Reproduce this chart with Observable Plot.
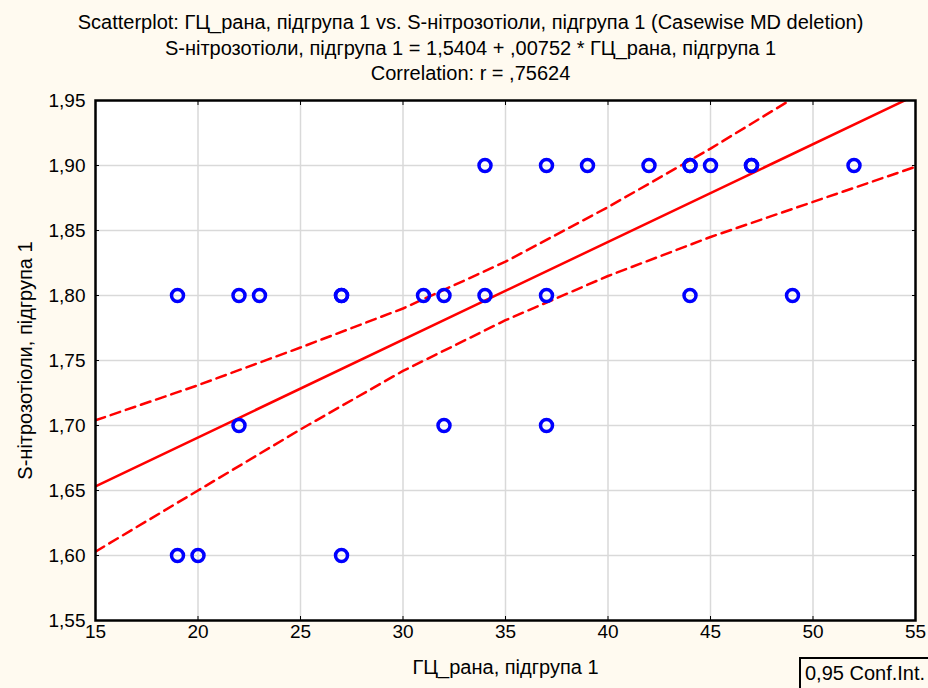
<!DOCTYPE html>
<html>
<head>
<meta charset="utf-8">
<script src="https://cdn.jsdelivr.net/npm/d3@7"></script>
<script src="https://cdn.jsdelivr.net/npm/@observablehq/plot@0.6"></script>
<style>
  html, body { margin: 0; padding: 0; background: #fffaf0; }
  #wrap { position: relative; width: 928px; height: 688px; overflow: hidden; }
  #legend { position: absolute; left: 799px; top: 657px; width: 140px; height: 29px;
            border: 2px solid #000; font: 20px "Liberation Sans", Arial, sans-serif; color: #000;
            line-height: 29px; padding-left: 4px; box-sizing: content-box; white-space: nowrap; }
</style>
</head>
<body>
<div id="wrap"></div>
<script>
// ---- Data ----
const titleLines = [
  "Scatterplot: ГЦ_рана, підгрупа 1 vs. S-нітрозотіоли, підгрупа 1 (Casewise MD deletion)",
  "S-нітрозотіоли, підгрупа 1 = 1,5404 + ,00752 * ГЦ_рана, підгрупа 1",
  "Correlation: r = ,75624"
];
const xLabel = "ГЦ_рана, підгрупа 1";
const yLabel = "S-нітрозотіоли, підгрупа 1";
const legendText = "0,95 Conf.Int.";

// observations (x = ГЦ_рана, y = S-нітрозотіоли)
const obsX = [34, 37, 39, 42, 44, 44, 45, 47, 47, 52,
              19, 22, 23, 27, 27, 31, 32, 34, 37, 44, 49,
              22, 32, 37,
              19, 20, 27];
const obsY = [1.90, 1.90, 1.90, 1.90, 1.90, 1.90, 1.90, 1.90, 1.90, 1.90,
              1.80, 1.80, 1.80, 1.80, 1.80, 1.80, 1.80, 1.80, 1.80, 1.80, 1.80,
              1.70, 1.70, 1.70,
              1.60, 1.60, 1.60];

// regression (from the title equation)
const intercept = 1.5404;
const slope = 0.00752;
const fitX = [15, 55];

// 0.95 confidence band
const bandX = [15, 20, 25, 30, 35, 40, 45, 50, 55];
const upperY = [1.704, 1.731, 1.760, 1.790, 1.826, 1.868, 1.913, 1.961, 2.009];
const lowerY = [1.603, 1.650, 1.697, 1.742, 1.781, 1.815, 1.845, 1.872, 1.899];

const xTicks = [15, 20, 25, 30, 35, 40, 45, 50, 55];
const yTicks = [1.55, 1.60, 1.65, 1.70, 1.75, 1.80, 1.85, 1.90, 1.95];

// ---- Build tables ----
const points = obsX.map((x, i) => ({x, y: obsY[i]}));
const fit = fitX.map(x => ({x, y: intercept + slope * x}));
const upper = bandX.map((x, i) => ({x, y: upperY[i]}));
const lower = bandX.map((x, i) => ({x, y: lowerY[i]}));
const comma = d => d.toFixed(2).replace(".", ",");

const FONT = "'Liberation Sans', Arial, sans-serif";

const chart = Plot.plot({
  width: 928,
  height: 688,
  marginLeft: 95,
  marginRight: 13,
  marginTop: 100,
  marginBottom: 68,
  style: { background: "#fffaf0", fontFamily: FONT, fontSize: "19px", color: "#000" },
  x: { domain: [15, 55], ticks: xTicks },
  y: { domain: [1.55, 1.95], ticks: yTicks },
  marks: [
    Plot.frame({ fill: "white", stroke: null }),
    Plot.gridX(xTicks.slice(1, -1), { stroke: "#d9d9d9", strokeOpacity: 1, strokeWidth: 1.5 }),
    Plot.gridY(yTicks.slice(1, -1), { stroke: "#d9d9d9", strokeOpacity: 1, strokeWidth: 1.5 }),
    Plot.line(upper, { x: "x", y: "y", stroke: "#ff0000", strokeWidth: 2.5, strokeDasharray: "10,6", clip: true }),
    Plot.line(lower, { x: "x", y: "y", stroke: "#ff0000", strokeWidth: 2.5, strokeDasharray: "10,6", clip: true }),
    Plot.line(fit, { x: "x", y: "y", stroke: "#ff0000", strokeWidth: 2.5, clip: true }),
    Plot.dot(points, { x: "x", y: "y", r: 6, stroke: "#0000ff", strokeWidth: 3.5, fill: "none" }),
    Plot.axisX({ anchor: "bottom", ticks: xTicks, tickSize: -4, tickPadding: 8, tickFormat: d => String(d), label: null, fontSize: 19 }),
    Plot.axisX({ anchor: "top", ticks: xTicks, tickSize: -4, tickFormat: () => "", label: null }),
    Plot.axisY({ anchor: "left", ticks: yTicks, tickSize: -4, tickPadding: 14, tickFormat: comma, label: null, fontSize: 19 }),
    Plot.axisY({ anchor: "right", ticks: yTicks, tickSize: -4, tickFormat: () => "", label: null }),
    Plot.frame({ stroke: "#000", strokeWidth: 2.5 }),
    Plot.text([titleLines[0]], { text: d => d, frameAnchor: "top", dx: -35, dy: -86, fontSize: 20 }),
    Plot.text([titleLines[1]], { text: d => d, frameAnchor: "top", dx: -35, dy: -60, fontSize: 20 }),
    Plot.text([titleLines[2]], { text: d => d, frameAnchor: "top", dx: -35, dy: -35, fontSize: 20 }),
    Plot.text([xLabel], { text: d => d, frameAnchor: "bottom", dy: 53, fontSize: 20 }),
    Plot.text([yLabel], { text: d => d, frameAnchor: "left", textAnchor: "middle", dx: -70, rotate: -90, fontSize: 20 })
  ]
});

const wrap = document.getElementById("wrap");
wrap.appendChild(chart);
const lg = document.createElement("div");
lg.id = "legend";
lg.textContent = legendText;
wrap.appendChild(lg);
</script>
</body>
</html>
